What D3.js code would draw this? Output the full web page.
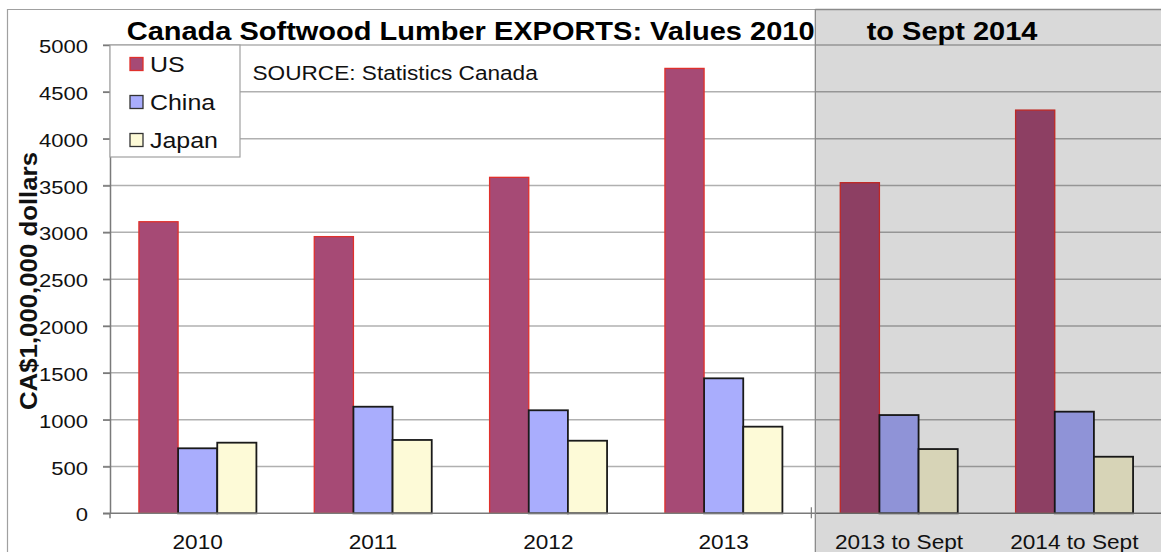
<!DOCTYPE html>
<html><head><meta charset="utf-8">
<script src="https://cdn.jsdelivr.net/npm/d3@7/dist/d3.min.js"></script>
<style>body{margin:0;background:#fff}svg{display:block;font-family:"Liberation Sans",Arial,sans-serif}</style>
</head><body><svg id="c" width="1161" height="552"></svg>
<script>
const categories = ["2010", "2011", "2012", "2013", "2013 to Sept", "2014 to Sept"];
const seriesNames = ["US", "China", "Japan"];
const usValues = [3113, 2954, 3587, 4750, 3530, 4305];
const chinaValues = [694, 1138, 1100, 1441, 1049, 1085];
const japanValues = [754, 783, 775, 925, 686, 604];
const yTicks = [0, 500, 1000, 1500, 2000, 2500, 3000, 3500, 4000, 4500, 5000];
const titleLeft = "Canada Softwood Lumber EXPORTS: Values 2010";
const titleRight = "to Sept 2014";
const sourceText = "SOURCE: Statistics Canada";
const yLabel = "CA$1,000,000 dollars";
const seriesColors = ["#a64a75", "#a9adfd", "#fdfad7"];
const seriesStrokes = ["#e0302c", "#1a1a1a", "#1a1a1a"];

const W = 1161, H = 552, SX = 1.16;
const svg = d3.select("#c");
const valuesBySeries = [usValues, chinaValues, japanValues];

const x = d3.scaleBand().domain(categories).range([110, 1162]).paddingInner(0.33).paddingOuter(0.165);
const xs = d3.scaleBand().domain(seriesNames).range([0, x.bandwidth()]);
const y = d3.scaleLinear().domain([0, 5000]).range([513.3, 45]);

svg.append("rect").attr("width", W).attr("height", H).attr("fill", "#fff");

// outer frame
svg.append("line").attr("x1", 7).attr("x2", W).attr("y1", 9.5).attr("y2", 9.5).attr("stroke", "#a0a0a0").attr("stroke-width", 1.2);
svg.append("line").attr("x1", 7.5).attr("x2", 7.5).attr("y1", 9).attr("y2", H).attr("stroke", "#a0a0a0").attr("stroke-width", 1.2);

// gridlines
svg.append("g").selectAll("line").data(yTicks.filter(d => d > 0)).join("line")
  .attr("x1", 103).attr("x2", W).attr("y1", d => y(d)).attr("y2", d => y(d))
  .attr("stroke", "#b0b0b0").attr("stroke-width", 1.5);

// bars
const rows = categories.map((c, i) => ({cat: c, vals: seriesNames.map((s, j) => ({s, j, v: valuesBySeries[j][i]}))}));
svg.append("g").selectAll("g").data(rows).join("g")
  .attr("transform", d => `translate(${x(d.cat)},0)`)
  .selectAll("rect").data(d => d.vals).join("rect")
  .attr("x", d => xs(d.s)).attr("width", xs.bandwidth())
  .attr("y", d => y(d.v)).attr("height", d => y(0) - y(d.v))
  .attr("fill", d => seriesColors[d.j])
  .attr("stroke", d => seriesStrokes[d.j])
  .attr("stroke-width", d => d.j === 0 ? 1.3 : 1.8);

// x baseline
svg.append("line").attr("x1", 103).attr("x2", W).attr("y1", y(0)).attr("y2", y(0)).attr("stroke", "#7a7a7a").attr("stroke-width", 1.5);

// y axis
const yAxis = svg.append("g").attr("transform", "translate(110,0)")
  .call(d3.axisLeft(y).tickValues(yTicks).tickSize(7).tickSizeOuter(0).tickFormat(d3.format("d")));
yAxis.select(".domain").attr("stroke", "#7a7a7a").attr("stroke-width", 1.5);
yAxis.selectAll(".tick line").attr("stroke", "#7a7a7a").attr("stroke-width", 1.5);
yAxis.selectAll(".tick text")
  .attr("x", -22 / SX).attr("dy", "0.4em").attr("transform", `scale(${SX},1)`)
  .attr("font-size", 19).attr("fill", "#111").attr("font-family", "Liberation Sans, Arial, sans-serif");
svg.append("line").attr("x1", 110).attr("x2", 110).attr("y1", y(0)).attr("y2", y(0) + 5).attr("stroke", "#7a7a7a").attr("stroke-width", 1.5);

// category tick between actual years and YTD part
const boundary = x(categories[4]) - x.step() * x.paddingInner() / 2;
svg.append("line").attr("x1", boundary).attr("x2", boundary).attr("y1", y(0) - 6).attr("y2", y(0) + 5).attr("stroke", "#7a7a7a").attr("stroke-width", 1.2);

// legend
const lg = svg.append("g");
lg.append("rect").attr("x", 110).attr("y", 45).attr("width", 130).attr("height", 112)
  .attr("fill", "#fff").attr("stroke", "#a0a0a0").attr("stroke-width", 1.2);
seriesNames.forEach((s, i) => {
  const ty = 57.5 + 38 * i;
  lg.append("rect").attr("x", 130).attr("y", ty).attr("width", 13).attr("height", 13)
    .attr("fill", seriesColors[i]).attr("stroke", i === 0 ? "#e0302c" : "#333").attr("stroke-width", 1.3);
  lg.append("text").attr("transform", `translate(150,${ty + 14.5}) scale(${SX},1)`)
    .attr("font-size", 21.5).attr("fill", "#111").text(s);
});

// source
svg.append("text").attr("transform", `translate(252.5,80) scale(${SX},1)`)
  .attr("font-size", 19.5).attr("fill", "#111").text(sourceText);

// shaded overlay for partial-year comparison
const shadeX = boundary + 4;
svg.append("rect").attr("x", shadeX).attr("y", 9.5).attr("width", W - shadeX).attr("height", H - 9.5)
  .attr("fill", "#000").attr("fill-opacity", 0.15);
svg.append("line").attr("x1", shadeX).attr("x2", shadeX).attr("y1", 9).attr("y2", H).attr("stroke", "#8a8a8a").attr("stroke-width", 1.3);
svg.append("line").attr("x1", shadeX).attr("x2", W).attr("y1", 9.5).attr("y2", 9.5).attr("stroke", "#8a8a8a").attr("stroke-width", 1.3);

// title
svg.append("text").attr("transform", `translate(126.7,40) scale(${SX},1)`)
  .attr("font-size", 25).attr("font-weight", "bold").attr("fill", "#000").text(titleLeft);
svg.append("text").attr("transform", `translate(866.7,40) scale(${SX},1)`)
  .attr("font-size", 25).attr("font-weight", "bold").attr("fill", "#000").text(titleRight);

// x labels
svg.append("g").selectAll("text").data(categories).join("text")
  .attr("transform", d => `translate(${x(d) + x.bandwidth() / 2},549) scale(${SX},1)`)
  .attr("text-anchor", "middle").attr("font-size", 19.5).attr("fill", "#111").text(d => d);

// y label
svg.append("text").attr("transform", "translate(37,281) rotate(-90)")
  .attr("text-anchor", "middle").attr("font-size", 23).attr("font-weight", "bold").attr("fill", "#111")
  .attr("textLength", 258).attr("lengthAdjust", "spacingAndGlyphs").text(yLabel);
</script></body></html>
